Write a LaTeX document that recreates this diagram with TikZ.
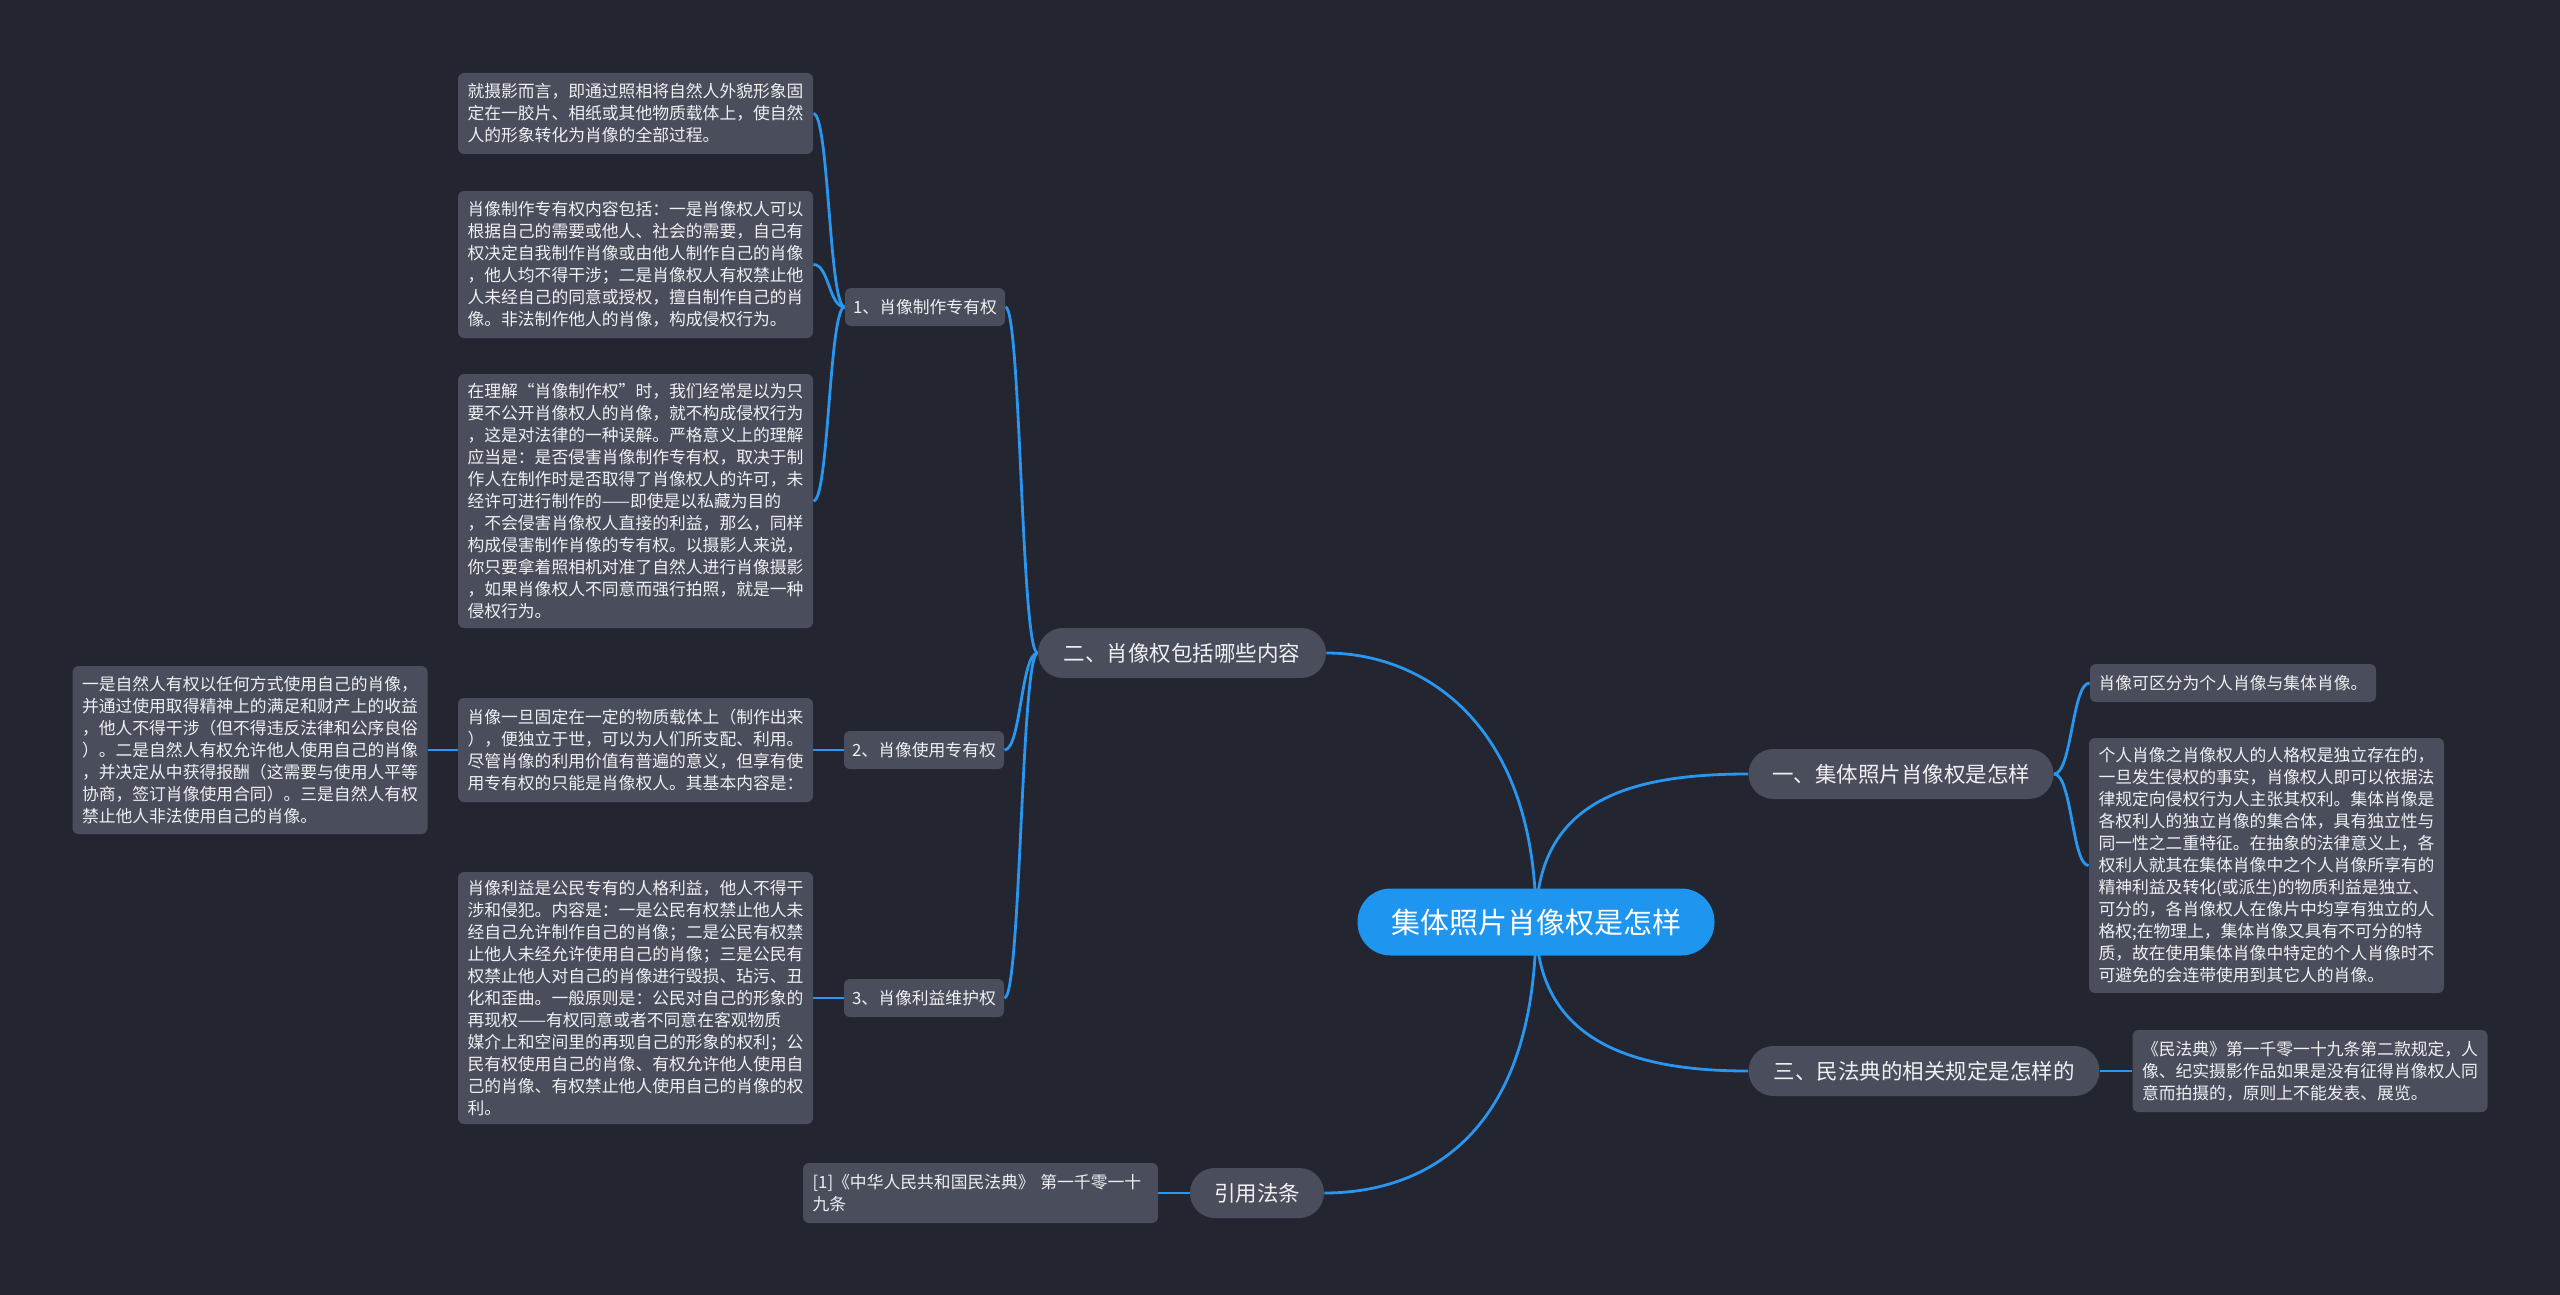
\documentclass[tikz,border=0pt]{standalone}
\usepackage{fontspec}
\newfontfamily\cjk{Noto Sans CJK SC}
\definecolor{bgc}{RGB}{35,38,49}
\definecolor{boxc}{RGB}{73,77,92}
\definecolor{linec}{RGB}{41,150,240}
\definecolor{cfill}{RGB}{30,150,240}
\definecolor{txt}{RGB}{240,240,242}
\pgfdeclarelayer{back}
\pgfdeclarelayer{lines}
\pgfsetlayers{back,lines,main}
\tikzset{
  leaf/.style={fill=boxc, rounded corners=3pt, text=txt, align=left,
    font=\cjk\fontsize{8.4}{11}\selectfont, text width=168pt,
    inner xsep=4.75pt, inner ysep=0pt},
  sub/.style={fill=boxc, rounded corners=3pt, text=txt,
    font=\cjk\fontsize{8.4}{11}\selectfont, minimum width=80pt, minimum height=19pt, inner sep=0pt},
  branch/.style={fill=boxc, rounded corners=12.4pt, text=txt,
    font=\cjk\fontsize{10.75}{13}\selectfont, minimum height=25pt, inner sep=0pt},
  root/.style={fill=cfill, rounded corners=16.6pt, text=white,
    font=\cjk\fontsize{14.5}{17}\selectfont, minimum width=178.5pt, minimum height=33.5pt, inner sep=0pt},
  conn/.style={draw=linec, line width=1.4pt},
}
\begin{document}
\begin{tikzpicture}[x=0.5pt,y=-0.5pt]
\begin{pgfonlayer}{back}
\fill[bgc] (0,0) rectangle (2560,1295);
\end{pgfonlayer}
\useasboundingbox (0,0) rectangle (2560,1295);

% root and branches
\node[root] (c) at (1536,922) {集体照片肖像权是怎样};
\node[branch, minimum width=144pt] (b2) at (1182,653) {二、肖像权包括哪些内容};
\node[branch, minimum width=152.5pt] (b1) at (1901,774) {一、集体照片肖像权是怎样};
\node[branch, minimum width=175.5pt] (b3) at (1924,1071) {三、民法典的相关规定是怎样的};
\node[branch, minimum width=67pt] (b4) at (1257,1193) {引用法条};

% sub-branches
\node[sub] (s1) at (925,307) {1、肖像制作专有权};
\node[sub] (s2) at (924,750) {2、肖像使用专有权};
\node[sub] (s3) at (924,998) {3、肖像利益维护权};

% left leaves
\node[leaf, minimum height=40.5pt] (l1) at (635.5,113.5) {就摄影而言，即通过照相将自然人外貌形象固\\定在一胶片、相纸或其他物质载体上，使自然\\人的形象转化为肖像的全部过程。};
\node[leaf, minimum height=73.5pt] (l2) at (635.5,264.5) {肖像制作专有权内容包括：一是肖像权人可以\\根据自己的需要或他人、社会的需要，自己有\\权决定自我制作肖像或由他人制作自己的肖像\\，他人均不得干涉；二是肖像权人有权禁止他\\人未经自己的同意或授权，擅自制作自己的肖\\像。非法制作他人的肖像，构成侵权行为。};
\node[leaf, minimum height=127pt] (l3) at (635.5,501) {在理解“肖像制作权”时，我们经常是以为只\\要不公开肖像权人的肖像，就不构成侵权行为\\，这是对法律的一种误解。严格意义上的理解\\应当是：是否侵害肖像制作专有权，取决于制\\作人在制作时是否取得了肖像权人的许可，未\\经许可进行制作的——即使是以私藏为目的\\，不会侵害肖像权人直接的利益，那么，同样\\构成侵害制作肖像的专有权。以摄影人来说，\\你只要拿着照相机对准了自然人进行肖像摄影\\，如果肖像权人不同意而强行拍照，就是一种\\侵权行为。};
\node[leaf, minimum height=52pt] (l4) at (635.5,750) {肖像一旦固定在一定的物质载体上（制作出来\\），便独立于世，可以为人们所支配、利用。\\尽管肖像的利用价值有普遍的意义，但享有使\\用专有权的只能是肖像权人。其基本内容是：};
\node[leaf, minimum height=84pt] (l5) at (250,750) {一是自然人有权以任何方式使用自己的肖像，\\并通过使用取得精神上的满足和财产上的收益\\，他人不得干涉（但不得违反法律和公序良俗\\）。二是自然人有权允许他人使用自己的肖像\\，并决定从中获得报酬（这需要与使用人平等\\协商，签订肖像使用合同）。三是自然人有权\\禁止他人非法使用自己的肖像。};
\node[leaf, minimum height=126pt] (l6) at (635.5,998) {肖像利益是公民专有的人格利益，他人不得干\\涉和侵犯。内容是：一是公民有权禁止他人未\\经自己允许制作自己的肖像；二是公民有权禁\\止他人未经允许使用自己的肖像；三是公民有\\权禁止他人对自己的肖像进行毁损、玷污、丑\\化和歪曲。一般原则是：公民对自己的形象的\\再现权——有权同意或者不同意在客观物质\\媒介上和空间里的再现自己的形象的权利；公\\民有权使用自己的肖像、有权允许他人使用自\\己的肖像、有权禁止他人使用自己的肖像的权\\利。};
\node[leaf, minimum height=30pt] (r0) at (980.5,1193) {[1]《中华人民共和国民法典》 第一千零一十\\九条};

% right leaves
\node[leaf, text width=134.4pt, inner xsep=4.3pt, minimum height=19pt] (r1) at (2233,683) {肖像可区分为个人肖像与集体肖像。};
\node[leaf, minimum height=127.5pt] (r2) at (2266.5,865.5) {个人肖像之肖像权人的人格权是独立存在的，\\一旦发生侵权的事实，肖像权人即可以依据法\\律规定向侵权行为人主张其权利。集体肖像是\\各权利人的独立肖像的集合体，具有独立性与\\同一性之二重特征。在抽象的法律意义上，各\\权利人就其在集体肖像中之个人肖像所享有的\\精神利益及转化(或派生)的物质利益是独立、\\可分的，各肖像权人在像片中均享有独立的人\\格权;在物理上，集体肖像又具有不可分的特\\质，故在使用集体肖像中特定的个人肖像时不\\可避免的会连带使用到其它人的肖像。};
\node[leaf, minimum height=41pt] (r3) at (2310,1071) {《民法典》第一千零一十九条第二款规定，人\\像、纪实摄影作品如果是没有征得肖像权人同\\意而拍摄的，原则上不能发表、展览。};

\begin{pgfonlayer}{lines}
\draw[conn] (c.center) .. controls (1536,720) and (1420,653) .. (b2.east);
\draw[conn] (c.center) .. controls (1536,800) and (1630,774) .. (b1.west);
\draw[conn] (c.center) .. controls (1536,1040) and (1630,1071) .. (b3.west);
\draw[conn] (c.center) .. controls (1536,1140) and (1420,1193) .. (b4.east);

\draw[conn] (b2.west) .. controls (1021,653) and (1021,307) .. (s1.east);
\draw[conn] (b2.west) .. controls (1021,653) and (1021,750) .. (s2.east);
\draw[conn] (b2.west) .. controls (1021,653) and (1021,998) .. (s3.east);

\draw[conn] (s1.west) .. controls (829,307) and (829,113.5) .. (l1.east);
\draw[conn] (s1.west) .. controls (829,307) and (829,264.5) .. (l2.east);
\draw[conn] (s1.west) .. controls (829,307) and (829,501) .. (l3.east);
\draw[conn] (s2.west) -- (l4.east);
\draw[conn] (l4.west) -- (l5.east);
\draw[conn] (s3.west) -- (l6.east);
\draw[conn] (b4.west) -- (r0.east);

\draw[conn] (b1.east) .. controls (2072,774) and (2072,683) .. (r1.west);
\draw[conn] (b1.east) .. controls (2072,774) and (2072,865.5) .. (r2.west);
\draw[conn] (b3.east) -- (r3.west);
\end{pgfonlayer}
\end{tikzpicture}
\end{document}
